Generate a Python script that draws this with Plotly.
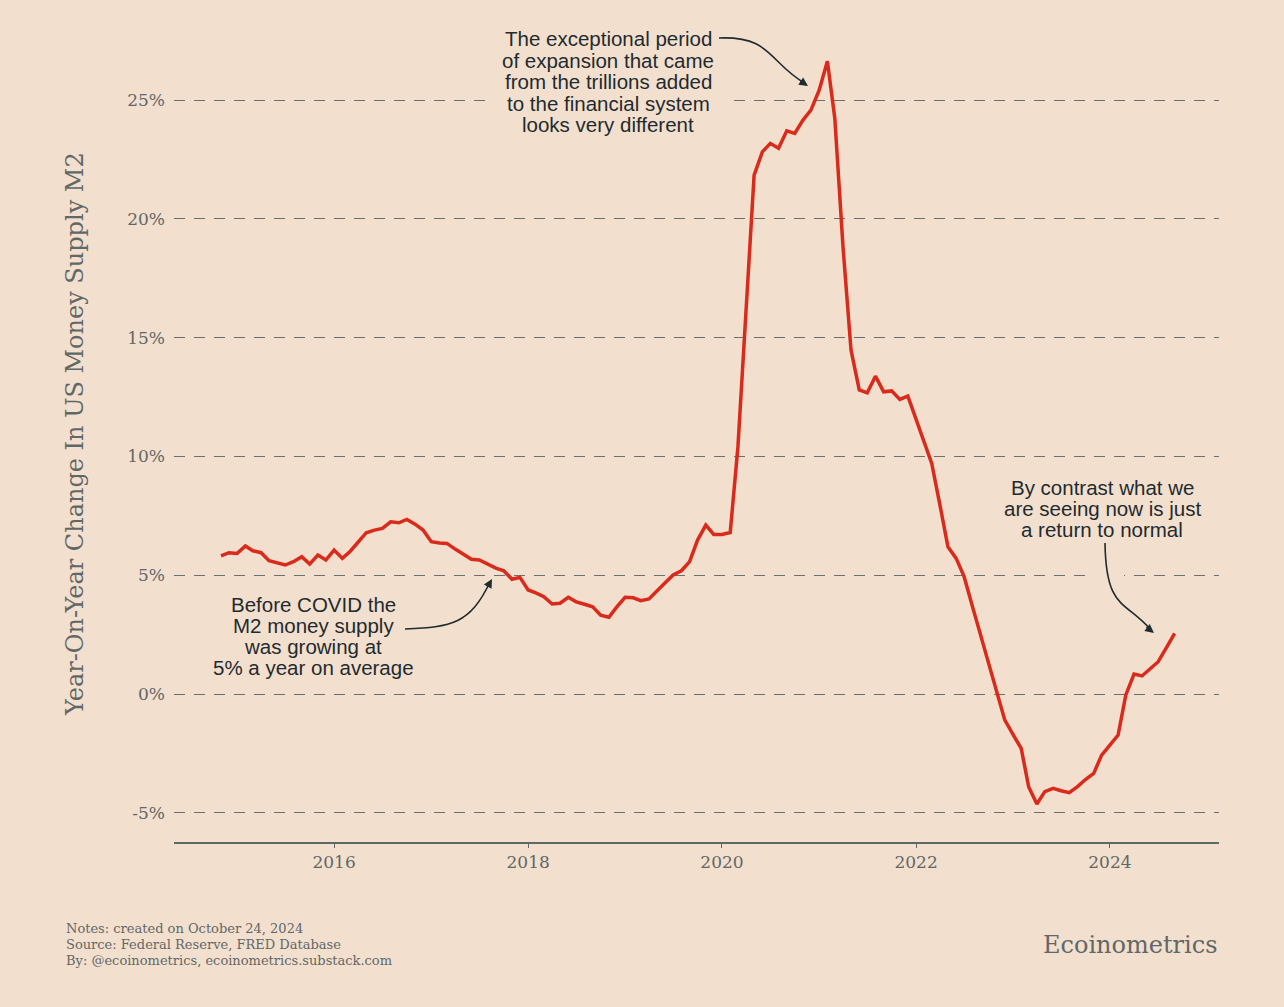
import pandas as pd
import plotly.graph_objects as go

# ---------------- data ----------------
start_month = "2014-11-01"
m2_yoy_pct = [
    5.81, 5.95, 5.92, 6.23, 6.03, 5.95, 5.61, 5.50, 5.43, 5.57,
    5.78, 5.47, 5.85, 5.64, 6.06, 5.71, 6.00, 6.40, 6.79, 6.90,
    6.97, 7.25, 7.21, 7.35, 7.15, 6.90, 6.41, 6.36, 6.34, 6.10,
    5.90, 5.67, 5.64, 5.45, 5.30, 5.19, 4.83, 4.91, 4.38, 4.25,
    4.10, 3.79, 3.82, 4.07, 3.88, 3.78, 3.67, 3.32, 3.23, 3.67,
    4.07, 4.05, 3.93, 4.00, 4.31, 4.68, 5.01, 5.19, 5.57, 6.48,
    7.11, 6.72, 6.72, 6.80, 10.40, 16.10, 21.84, 22.82, 23.18, 22.97,
    23.71, 23.60, 24.16, 24.58, 25.42, 26.64, 24.23, 18.80, 14.48, 12.80,
    12.68, 13.38, 12.72, 12.76, 12.40, 12.54, 11.60, 10.62, 9.71, 7.95,
    6.20, 5.71, 4.94, 3.70, 2.50, 1.30, 0.10, -1.09, -1.70, -2.29,
    -3.90, -4.63, -4.11, -3.97, -4.07, -4.15, -3.90, -3.60, -3.34, -2.57,
    -2.15, -1.73, -0.04, 0.84, 0.76, 1.08, 1.36, 1.95, 2.55,
]
dates = pd.date_range(start_month, periods=len(m2_yoy_pct), freq="MS")

y_tick_values = [-5, 0, 5, 10, 15, 20, 25]
y_tick_labels = ["-5%", "0%", "5%", "10%", "15%", "20%", "25%"]
x_tick_years = ["2016", "2018", "2020", "2022", "2024"]

note_top = ["The exceptional period", "of expansion that came",
            "from the trillions added", "to the financial system",
            "looks very different"]
note_left = ["Before COVID the", "M2 money supply", "was growing at",
             "5% a year on average"]
note_right = ["By contrast what we", "are seeing now is just",
              "a return to normal"]
footer_lines = ["Notes: created on October 24, 2024",
                "Source: Federal Reserve, FRED Database",
                "By: @ecoinometrics, ecoinometrics.substack.com"]

# ---------------- style ----------------
BG = "#f3dfcd"
RED = "#d92a1c"
GREY = "#5f6868"
INK = "#1e2b30"
SERIF = "DejaVu Serif, Georgia, serif"
SANS = "Liberation Sans, Arial, sans-serif"

W, H = 1284, 1007
L, R, T, B = 174, 1219, 36, 842


def px(x):
    return (x - L) / (R - L)


def py(y):
    return (B - y) / (B - T)


fig = go.Figure()
fig.add_trace(go.Scatter(x=dates, y=m2_yoy_pct, mode="lines",
                         line=dict(color=RED, width=3.5), hoverinfo="skip",
                         showlegend=False))

annotations = []
shapes = []


def text_block(lines, xc, y0, dy, box, size=20.5):
    # background patch hiding the gridlines behind the text
    shapes.append(dict(type="rect", xref="paper", yref="paper",
                       x0=px(box[0]), x1=px(box[1]), y0=py(box[3]), y1=py(box[2]),
                       fillcolor=BG, line=dict(width=0), layer="above"))
    for i, t in enumerate(lines):
        annotations.append(dict(
            text=t, xref="paper", yref="paper", x=px(xc), y=py(y0 + i * dy),
            xanchor="center", yanchor="middle", showarrow=False,
            font=dict(family=SANS, size=size, color=INK)))


text_block(note_top, 608, 39, 21.5, (492, 726, 26, 138))
text_block(note_left, 313, 604, 21, (200, 426, 590, 682))
text_block(note_right, 1102, 487, 21, (992, 1212, 474, 542))
# small gap in the 5% gridline around the right-hand arrow
shapes.append(dict(type="rect", xref="paper", yref="paper",
                   x0=px(1093), x1=px(1124), y0=py(580), y1=py(570),
                   fillcolor=BG, line=dict(width=0), layer="above"))

# arrow heads
for tip, off in [((808, 86), (-9, -6)), ((492, 579), (-5, 9)), ((1154, 633), (-9, -7))]:
    annotations.append(dict(
        text="", xref="paper", yref="paper", x=px(tip[0]), y=py(tip[1]),
        ax=off[0], ay=off[1], showarrow=True, arrowhead=2, arrowsize=1.1,
        arrowwidth=1.6, arrowcolor=INK, standoff=0))

# y title
annotations.append(dict(
    text="Year-On-Year Change In US Money Supply M2", xref="paper", yref="paper",
    x=px(75), y=py(434), textangle=-90, showarrow=False, xanchor="center",
    yanchor="middle", font=dict(family=SERIF, size=24, color=GREY)))

# footer
for i, t in enumerate(footer_lines):
    annotations.append(dict(
        text=t, xref="paper", yref="paper", x=px(64), y=py(928 + i * 16),
        xanchor="left", yanchor="middle", showarrow=False,
        font=dict(family=SERIF, size=13, color=GREY)))
annotations.append(dict(
    text="Ecoinometrics", xref="paper", yref="paper", x=px(1220), y=py(945),
    xanchor="right", yanchor="middle", showarrow=False,
    font=dict(family=SERIF, size=24, color=GREY)))

# curved arrow bodies


def bez(p0, c1, c2, p1):
    return (f"M {px(p0[0])},{py(p0[1])} C {px(c1[0])},{py(c1[1])} "
            f"{px(c2[0])},{py(c2[1])} {px(p1[0])},{py(p1[1])}")


for path in [bez((719, 38), (772, 36), (768, 62), (806, 84)),
             bez((405, 629), (452, 627), (470, 624), (490, 582)),
             bez((1105, 543), (1106, 610), (1125, 600), (1151, 630))]:
    shapes.append(dict(type="path", path=path, xref="paper", yref="paper",
                       line=dict(color=INK, width=1.6), layer="above"))

fig.update_layout(
    width=W, height=H, paper_bgcolor=BG, plot_bgcolor=BG,
    margin=dict(l=L, r=W - R, t=T, b=H - B, pad=0),
    annotations=annotations, shapes=shapes, showlegend=False,
    xaxis=dict(type="date", range=["2014-05-08", "2025-02-15"],
               tickvals=[f"{y}-01-01" for y in x_tick_years],
               ticktext=x_tick_years, showgrid=False, zeroline=False,
               showline=True, linecolor=GREY, linewidth=1.5,
               ticks="outside", ticklen=4, tickcolor=GREY, tickwidth=1.2,
               tickfont=dict(family=SERIF, size=17, color=GREY)),
    yaxis=dict(range=[-6.23, 27.7], tickvals=y_tick_values,
               ticktext=y_tick_labels, showgrid=True, gridcolor="#6a7070",
               gridwidth=1.4, griddash="11px,9px", zeroline=False,
               showline=False, ticks="", ticklabelstandoff=8,
               tickfont=dict(family=SERIF, size=17, color=GREY)),
)

fig.write_html("out.html", config={"displayModeBar": False},
               post_script="document.body.style.margin='0';"
                           "document.body.style.background='" + BG + "';")
